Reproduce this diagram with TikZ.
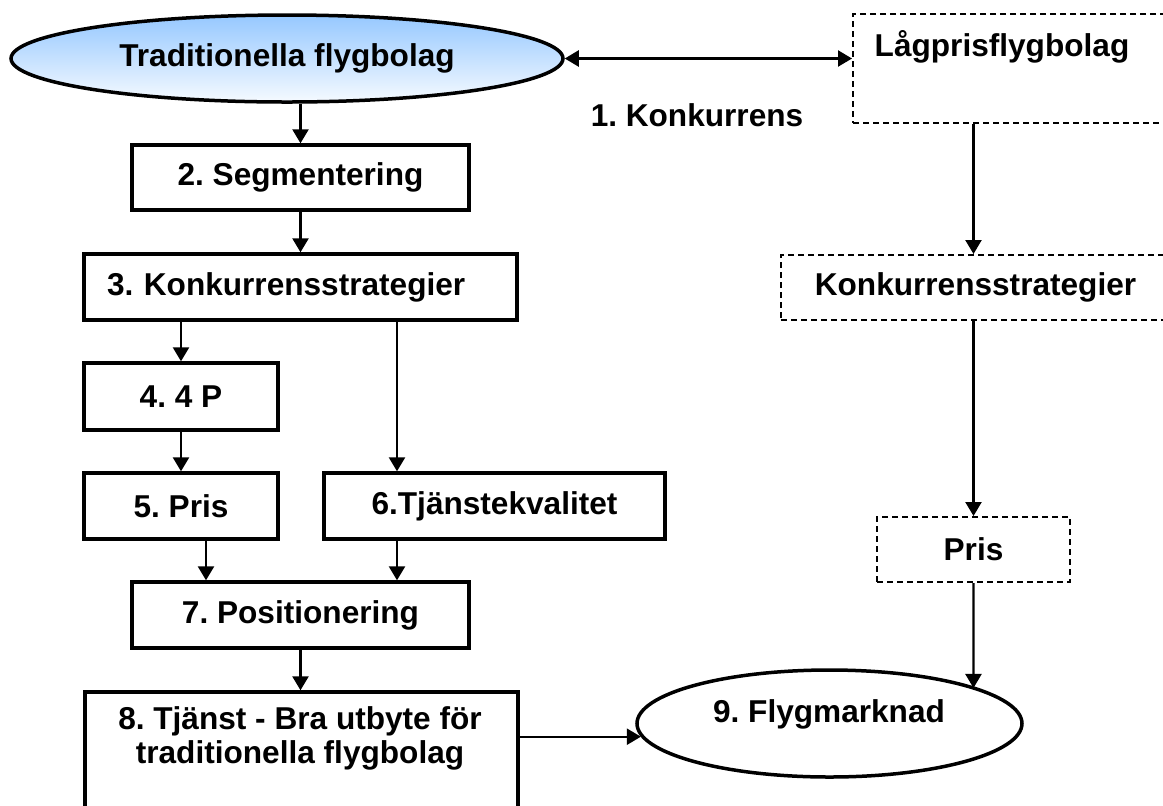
\documentclass[tikz,border=0pt]{standalone}
\usepackage{fontspec}
\setmainfont{Liberation Sans}
\usetikzlibrary{shapes.geometric,arrows.meta,calc,intersections}
\definecolor{skytop}{RGB}{150,200,255}
\definecolor{skybot}{RGB}{245,250,255}
\frenchspacing
\begin{document}
\begin{tikzpicture}[x=0.5pt,y=-0.5pt,
  every node/.style={font=\fontsize{15.8}{17}\selectfont\bfseries\frenchspacing, inner sep=0pt},
  solidbox/.style={draw, line width=1.7pt, rectangle},
  dashbox/.style={draw, line width=1pt, rectangle, dash pattern=on 3pt off 2pt},
  oval/.style={draw, line width=1.75pt, ellipse},
  arr/.style={line width=1.15pt, -{Triangle[length=7pt,width=8pt]}},
  darr/.style={line width=1.15pt, {Triangle[length=7pt,width=8pt]}-{Triangle[length=7pt,width=8pt]}},
  txt/.style={align=center}]
\useasboundingbox (0,0) rectangle (1163,805);
\clip (0,0) rectangle (1163,805);
\fill[white] (0,0) rectangle (1163,805);

% left column
\node[oval, top color=skytop, bottom color=skybot, minimum width=276pt, minimum height=43.5pt] (e1) at (287,58.5) {Traditionella flygbolag};
\node[solidbox, minimum width=168.5pt, minimum height=32.5pt] (b2) at (300.5,177.5) {2. Segmentering};
\node[solidbox, minimum height=33pt, text width=193.5pt, inner xsep=11.5pt, align=left] (b3) at (300.5,287) {3. Konkurrensstrategier};
\node[solidbox, minimum width=97pt, minimum height=33.5pt] (b4) at (181,396.5) {4. 4 P};
\node[solidbox, minimum width=97pt, minimum height=33pt] (b5) at (181,506) {5. Pris};
\node[solidbox, minimum width=170.5pt, minimum height=33pt] (b6) at (494.5,506) {6.Tjänstekvalitet};
\node[solidbox, minimum width=168.5pt, minimum height=33pt] (b7) at (300.5,615) {7. Positionering};
\node[solidbox, minimum width=216.5pt, minimum height=74pt] (b8) at (301.5,766) {};
\node[txt] (b8t) at (300,738) {8. Tjänst - Bra utbyte för\\traditionella flygbolag};

% right column
\node[dashbox, minimum width=161pt, minimum height=54.5pt] (lp) at (1014,68.5) {};
\node (lpt) at (1002,47) {Lågprisflygbolag};
\node (konk) at (697,115) {1. Konkurrens};
\node[dashbox, minimum width=194.5pt, minimum height=32.5pt, text width=180pt, align=center] (k2) at (975.5,287.5) {Konkurrensstrategier};
\node[dashbox, minimum width=96.5pt, minimum height=32.5pt] (pr) at (973.5,549.5) {Pris};
\node[oval, minimum width=192.5pt, minimum height=53.5pt, name path=e9path] (e9) at (829.5,723.5) {};
\node (e9t) at (829,714) {9. Flygmarknad};

% connectors
\draw[darr] (e1.east) -- (e1.east -| lp.west);
\draw[arr] (b2.north |- e1.south) -- (b2.north);
\draw[arr] (b2.south) -- (b3.north);
\draw[arr] (b4.north |- b3.south) -- (b4.north);
\draw[arr] ([xshift=-48.75pt]b6.north |- b3.south) -- ([xshift=-48.75pt]b6.north);
\draw[arr] (b4.south) -- (b5.north);
\draw[arr] ([xshift=12.5pt]b5.south) -- ([xshift=12.5pt]b5.south |- b7.north);
\draw[arr] ([xshift=-48.75pt]b6.south) -- ([xshift=-48.75pt]b6.south |- b7.north);
\draw[arr] (b7.south) -- (b7.south |- b8.north);
\draw[arr] (e9.184 -| b8.east) -- (e9.184);
\draw[arr] (lp.south -| pr.north) -- (pr.north |- k2.north);
\draw[arr] (pr.north |- k2.south) -- (pr.north);
\path[name path=prline] (pr.south) -- ([yshift=-100pt]pr.south);
\path[name intersections={of=prline and e9path, by={p9}}];
\draw[arr] (pr.south) -- (p9);
\end{tikzpicture}
\end{document}
